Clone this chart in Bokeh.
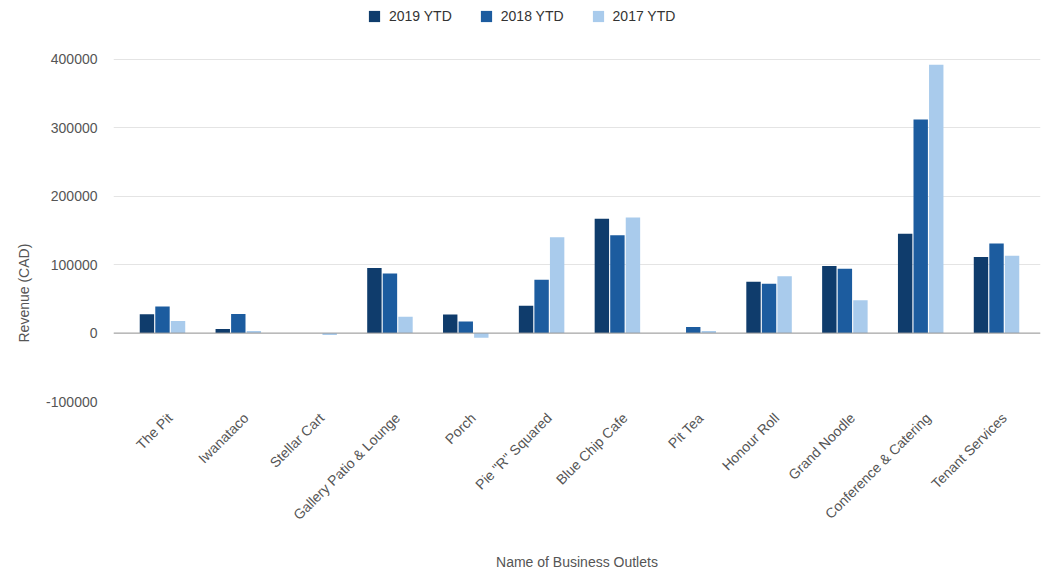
import math
from bokeh.plotting import figure
from bokeh.models import (ColumnDataSource, Range1d, FixedTicker, Span,
                          Title, Legend, LegendItem, NumeralTickFormatter)
from bokeh.transform import dodge
from bokeh.embed import file_html
from bokeh.resources import INLINE

outlets = ["The Pit", "Iwanataco", "Stellar Cart", "Gallery Patio & Lounge", "Porch",
           "Pie \"R\" Squared", "Blue Chip Cafe", "Pit Tea", "Honour Roll",
           "Grand Noodle", "Conference & Catering", "Tenant Services"]
ytd_2019 = [27500, 6000, 0, 95000, 27000, 40000, 167000, 0, 75000, 98000, 145000, 111000]
ytd_2018 = [39000, 28000, 0, 87000, 17000, 78000, 143000, 9000, 72000, 94000, 312000, 131000]
ytd_2017 = [17500, 3000, -3000, 24000, -7000, 140000, 169000, 3000, 83000, 48000, 392000, 113000]
series_names = ["2019 YTD", "2018 YTD", "2017 YTD"]
y_ticks = [-100000, 0, 100000, 200000, 300000, 400000]

colors = ["#0f3c6c", "#1c5c9f", "#a9cbec"]
FONT = "Liberation Sans"

idx = list(range(len(outlets)))
src = ColumnDataSource(data=dict(idx=idx, cat=outlets, y19=ytd_2019, y18=ytd_2018, y17=ytd_2017))

p = figure(width=1042, height=574, output_backend="svg", toolbar_location=None,
           x_range=Range1d(-0.646, len(outlets) - 1 + 0.58),
           y_range=Range1d(-100000, 486000),
           min_border_left=113, min_border_right=2, min_border_top=0, min_border_bottom=173)
p.outline_line_color = None
p.background_fill_color = "white"
p.border_fill_color = "white"

p.ygrid.grid_line_color = "#e4e4e4"
p.ygrid.ticker = FixedTicker(ticks=y_ticks)
p.xgrid.grid_line_color = None

label_shift = 0.1
x_ticks = [i + label_shift for i in idx]
p.xaxis.ticker = FixedTicker(ticks=x_ticks)
p.xaxis.major_label_overrides = {t: name for t, name in zip(x_ticks, outlets)}

p.yaxis.ticker = FixedTicker(ticks=y_ticks)
p.yaxis.formatter = NumeralTickFormatter(format="0")
for ax in (p.xaxis[0], p.yaxis[0]):
    ax.axis_line_color = None
    ax.major_tick_line_color = None
    ax.minor_tick_line_color = None
    ax.major_label_text_font = FONT
    ax.major_label_text_color = "#555555"
    ax.major_label_text_font_size = "14px"
p.yaxis.major_label_standoff = 10
p.xaxis.major_label_orientation = math.pi / 4
p.xaxis.major_label_standoff = 8
p.xaxis.axis_label = "Name of Business Outlets"
p.xaxis.axis_label_text_font = FONT
p.xaxis.axis_label_text_font_size = "14px"
p.xaxis.axis_label_text_font_style = "normal"
p.xaxis.axis_label_text_color = "#555555"
p.xaxis.axis_label_standoff = 22

width = 0.19
offs = [-0.205, 0.0, 0.205]
fields = ["y19", "y18", "y17"]
renderers = []
for f, o, c in zip(fields, offs, colors):
    r = p.vbar(x=dodge("idx", o), top=f, bottom=0, width=width,
               source=src, fill_color=c, line_color=None)
    renderers.append(r)

p.add_layout(Span(location=0, dimension="width", line_color="#9a9a9a", line_width=1))

legend = Legend(items=[LegendItem(label=n, renderers=[r]) for n, r in zip(series_names, renderers)],
                orientation="horizontal", location=(254, 377),
                glyph_width=14, glyph_height=14, label_height=14,
                label_text_font=FONT, label_text_font_size="14px", label_text_color="#333333",
                label_standoff=8, spacing=27, padding=0, margin=0,
                border_line_color=None, background_fill_alpha=0)
p.add_layout(legend, "center")

p.add_layout(Title(text="Revenue (CAD)", align="left", offset=59, vertical_align="top",
                   standoff=20, text_font=FONT, text_font_size="14px",
                   text_font_style="normal", text_color="#555555"), "left")

open("out.html", "w").write(file_html(p, INLINE))
